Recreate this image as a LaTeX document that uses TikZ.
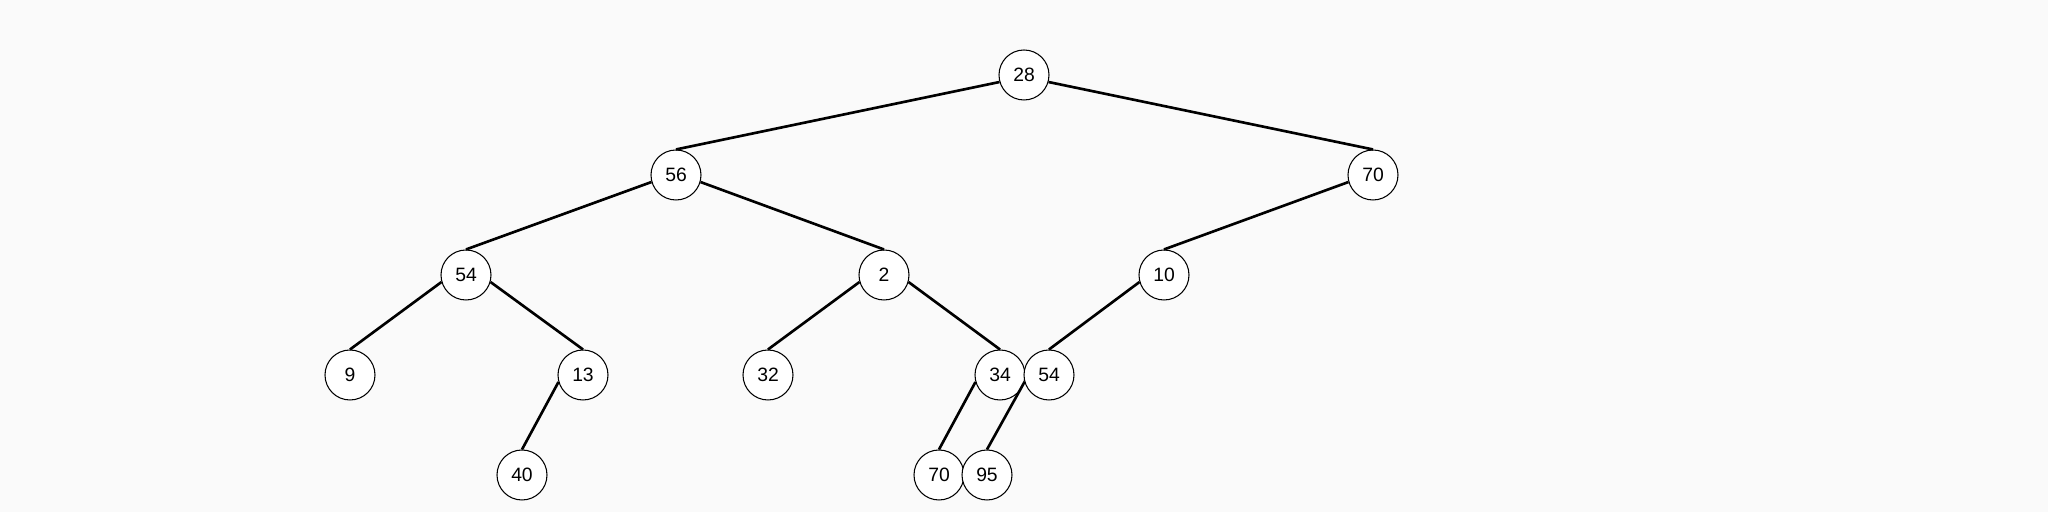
\documentclass[tikz,border=0pt]{standalone}
\usepackage{fontspec}
\setmainfont{Liberation Sans}
\usetikzlibrary{positioning}
\definecolor{bgpaper}{HTML}{FAFAFA}
\definecolor{inkblack}{HTML}{000000}

\begin{document}
\begin{tikzpicture}[x=1cm, y=-1cm,
    every node/.style={font=\fontsize{5.5}{6.5}\selectfont},
    treenode/.style={circle, draw=inkblack, fill=white, line width=0.3pt,
      minimum size=0.5cm, inner sep=0pt},
    treeedge/.style={inkblack, line width=0.75pt}]

  % ---- Canvas ----
  \fill[bgpaper] (0,0) rectangle (20.48,5.12);

  % ---- Level 0 ----
  \node[treenode] (n28) at (10.24,0.75) {28};

  % ---- Level 1 ----
  \node[treenode] (n56) at (6.76,1.75) {56};
  \node[treenode] (n70) at (13.73,1.75) {70};

  % ---- Level 2 ----
  \node[treenode] (n54) at (4.66,2.75) {54};
  \node[treenode] (n2)  at (8.84,2.75) {2};
  \node[treenode] (n10) at (11.64,2.75) {10};

  % ---- Level 3 ----
  \node[treenode] (n9)  at (3.50,3.75) {9};
  \node[treenode] (n13) at (5.83,3.75) {13};
  \node[treenode] (n32) at (7.68,3.75) {32};
  \node[treenode] (n34) at (10.00,3.75) {34};
  \node[treenode] (n54b) at (10.49,3.75) {54};

  % ---- Level 4 ----
  \node[treenode] (n40) at (5.22,4.75) {40};
  \node[treenode] (n70b) at (9.39,4.75) {70};
  \node[treenode] (n95) at (9.87,4.75) {95};

  % ---- Edges: parent side -> child top ----
  \draw[treeedge] (n28.196) -- (n56.north);
  \draw[treeedge] (n28.-16) -- (n70.north);
  \draw[treeedge] (n56.196) -- (n54.north);
  \draw[treeedge] (n56.-16) -- (n2.north);
  \draw[treeedge] (n70.196) -- (n10.north);
  \draw[treeedge] (n54.196) -- (n9.north);
  \draw[treeedge] (n54.-16) -- (n13.north);
  \draw[treeedge] (n2.196)  -- (n32.north);
  \draw[treeedge] (n2.-16)  -- (n34.north);
  \draw[treeedge] (n10.196) -- (n54b.north);
  \draw[treeedge] (n13.196) -- (n40.north);
  \draw[treeedge] (n34.196) -- (n70b.north);
  \draw[treeedge] (n54b.196) -- (n95.north);

\end{tikzpicture}
\end{document}
